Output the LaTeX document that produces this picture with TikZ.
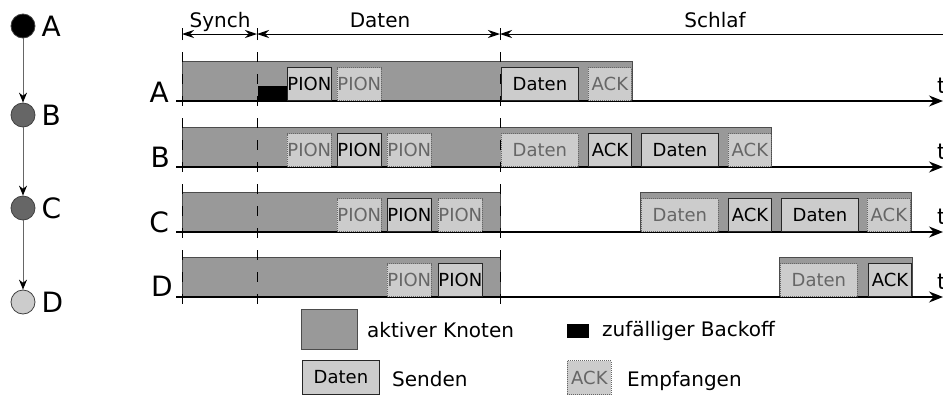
\documentclass[tikz,border=0pt]{standalone}
\usepackage{fontspec}
\setmainfont{DejaVu Sans}
\usetikzlibrary{arrows.meta}

\tikzset{
  lbl/.style={font=\fontsize{28}{30}\selectfont, inner sep=0pt},
  hdr/.style={font=\fontsize{20}{22}\selectfont, inner sep=0pt},
  legtxt/.style={font=\fontsize{20}{22}\selectfont, inner sep=0pt, anchor=base west},
  tlbl/.style={font=\fontsize{22}{24}\selectfont, inner sep=0pt, anchor=base west},
  bar/.style={fill=black!40, draw=black!70, line width=1pt},
  backoff/.style={fill=black, draw=black, line width=0.5pt},
  boxtxt/.style={font=\fontsize{18}{20}\selectfont, inner sep=0pt, anchor=south west,
                 minimum height=33pt},
  sendbox/.style={boxtxt, fill=black!20, draw=black!85, line width=0.9pt, text=black},
  recvbox/.style={boxtxt, fill=black!20, draw=black!60, line width=0.8pt,
                  dash pattern=on 1pt off 1pt, text=black!60},
  narrow/.style={minimum width=43pt},
  wide/.style={minimum width=77pt},
  timeaxis/.style={line width=1.4pt, -{Stealth[length=14pt,width=11pt]}},
  phase/.style={line width=1pt, dash pattern=on 10pt off 12pt},
  dimline/.style={line width=1pt},
  dimtip/.style={Stealth[length=12pt,width=8pt]},
  station/.style={circle, minimum size=24pt, inner sep=0pt, draw=black!75, line width=0.8pt},
  chainarrow/.style={draw=black!60, line width=1pt, -{Stealth[length=10pt,width=8pt,black]}},
}

\begin{document}
\begin{tikzpicture}[x=1pt,y=-1pt]
\useasboundingbox (0,0) rectangle (943,397);

% ---- topology of the four stations ----
\node[station, fill=black]    (nA) at (23,26)  {};
\node[station, fill=black!60] (nB) at (23,115) {};
\node[station, fill=black!60] (nC) at (23,208) {};
\node[station, fill=black!20] (nD) at (23,302) {};
\foreach \n in {A,B,C,D}
  \node[lbl, anchor=west] (ln\n) at ([xshift=6pt]n\n.east) {\n};
\draw[chainarrow] (nA) -- (nB);
\draw[chainarrow] (nB) -- (nC);
\draw[chainarrow] (nC) -- (nD);

% ---- phase boundaries ----
\coordinate (pS) at (182,34);
\coordinate (pD) at (257,34);
\coordinate (pZ) at (500,34);
\coordinate (pE) at (950,34);
\foreach \p in {pS,pD,pZ}
  \draw[line width=1pt] ([yshift=-6pt]\p) -- ([yshift=6pt]\p);
\draw[dimline, {Stealth[length=12pt,width=8pt]}-{Stealth[length=12pt,width=8pt]}] (pS) -- (pD);
\draw[dimline, {Stealth[length=12pt,width=8pt]}-{Stealth[length=12pt,width=8pt]}] (pD) -- (pZ);
\draw[dimline, {Stealth[length=12pt,width=8pt]}-] (pZ) -- (pE);
\node[hdr, anchor=base] (hS) at (220,27) {Synch};
\node[hdr, anchor=base] (hD) at (380,27) {Daten};
\node[hdr, anchor=base] (hZ) at (715,27) {Schlaf};

% ---- activity bars ----
\filldraw[bar] (182,61)  rectangle (632,101);
\filldraw[bar] (182,127) rectangle (771,167);
\filldraw[bar] (182,192) rectangle (500,232);
\filldraw[bar] (640,192) rectangle (911,232);
\filldraw[bar] (182,257) rectangle (500,297);
\filldraw[bar] (779,257) rectangle (912,297);

% ---- dashed phase lines ----
\coordinate (dSt) at (182,52);  \coordinate (dSb) at (182,312);
\coordinate (dDt) at (257,52);  \coordinate (dDb) at (257,312);
\coordinate (dZt) at (500,52);  \coordinate (dZb) at (500,312);
\draw[phase] (dSt) -- (dSb);
\draw[phase] (dDt) -- (dDb);
\draw[phase] (dZt) -- (dZb);

% ---- time axes ----
\foreach \r/\y in {A/101,B/167,C/232,D/297}{
  \coordinate (t0\r) at (176,\y);
  \coordinate (t1\r) at (943,\y);
  \draw[timeaxis] (t0\r) -- (t1\r);
  \node[tlbl] (tl\r) at (937,\y-8) {t};
}
\node[lbl, anchor=base east] (rA) at (169,102) {A};
\node[lbl, anchor=base east] (rB) at (170,167) {B};
\node[lbl, anchor=base east] (rC) at (169,232) {C};
\node[lbl, anchor=base east] (rD) at (173,296) {D};

% ---- row A ----
\filldraw[backoff] (258,86) rectangle (287,101);
\node[sendbox, narrow] (a1) at (287,101) {PION};
\node[recvbox, narrow] (a2) at (337,101) {PION};
\node[sendbox, wide]   (a3) at (501,101) {Daten};
\node[recvbox, narrow] (a4) at (588,101) {ACK};

% ---- row B ----
\node[recvbox, narrow] (b1) at (287,167) {PION};
\node[sendbox, narrow] (b2) at (337,167) {PION};
\node[recvbox, narrow] (b3) at (387,167) {PION};
\node[recvbox, wide]   (b4) at (501,167) {Daten};
\node[sendbox, narrow] (b5) at (588,167) {ACK};
\node[sendbox, wide]   (b6) at (641,167) {Daten};
\node[recvbox, narrow] (b7) at (728,167) {ACK};

% ---- row C ----
\node[recvbox, narrow] (c1) at (337,232) {PION};
\node[sendbox, narrow] (c2) at (387,232) {PION};
\node[recvbox, narrow] (c3) at (438,232) {PION};
\node[recvbox, wide]   (c4) at (641,232) {Daten};
\node[sendbox, narrow] (c5) at (728,232) {ACK};
\node[sendbox, wide]   (c6) at (781,232) {Daten};
\node[recvbox, narrow] (c7) at (867,232) {ACK};

% ---- row D ----
\node[recvbox, narrow] (d1) at (387,297) {PION};
\node[sendbox, narrow] (d2) at (438,297) {PION};
\node[recvbox, wide]   (d3) at (780,297) {Daten};
\node[sendbox, narrow] (d4) at (868,297) {ACK};

% ---- legend ----
\node[bar, minimum width=56pt, minimum height=40pt, anchor=north west, inner sep=0pt] (lgA) at (301,309) {};
\node[legtxt] (lgAt) at (367,337) {aktiver Knoten};
\node[backoff, minimum width=21pt, minimum height=13pt, anchor=north west, inner sep=0pt] (lgB) at (567,324) {};
\node[legtxt] (lgBt) at (602,336) {zufälliger Backoff};
\node[sendbox, wide, minimum height=34pt] (lgS) at (302,395) {Daten};
\node[legtxt] (lgSt) at (392,386) {Senden};
\node[recvbox, narrow, minimum height=34pt, minimum width=44pt] (lgR) at (567,395) {ACK};
\node[legtxt] (lgRt) at (627,386) {Empfangen};
\end{tikzpicture}
\end{document}
